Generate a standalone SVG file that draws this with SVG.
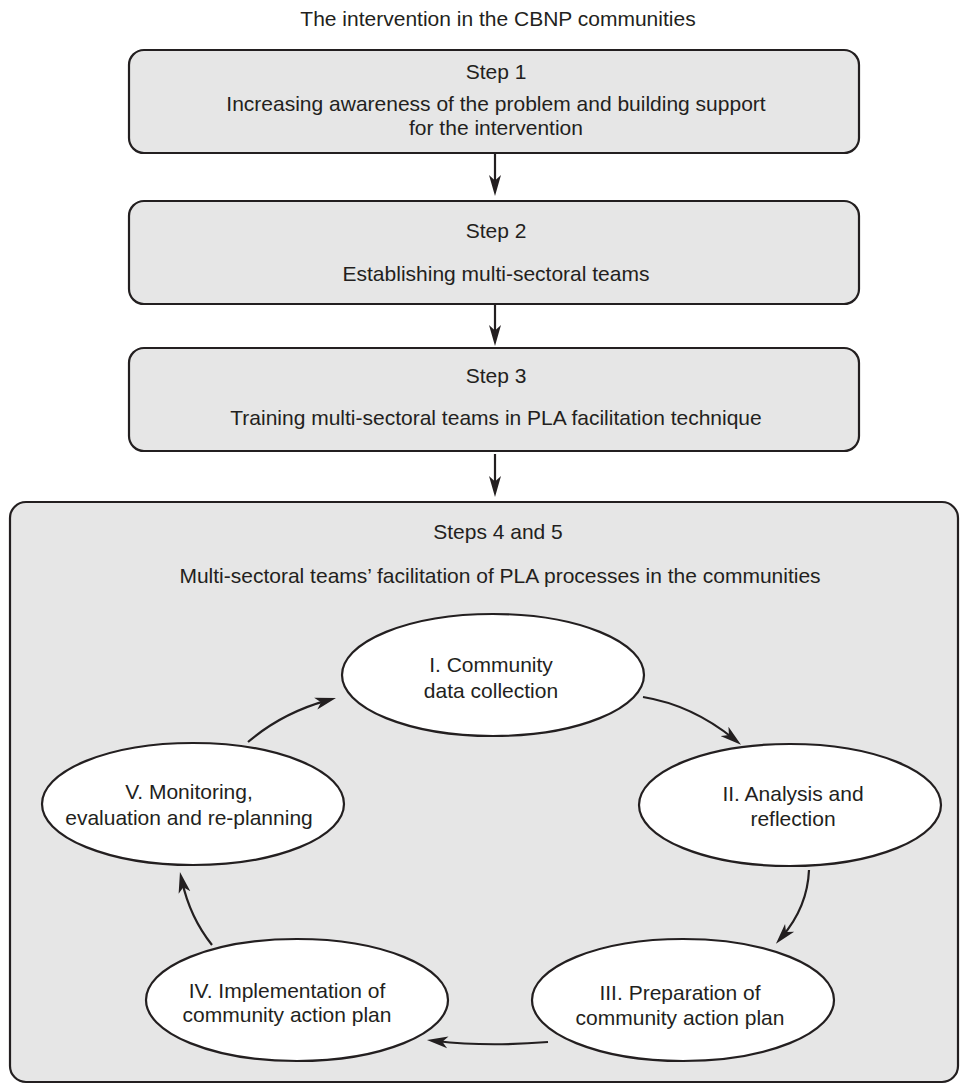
<svg xmlns="http://www.w3.org/2000/svg" width="960" height="1085" viewBox="0 0 960 1085">
<defs>
<style>
text{font-family:"Liberation Sans",Arial,sans-serif;font-size:21px;fill:#231f20;text-anchor:middle}
.box{fill:#e6e6e6;stroke:#231f20;stroke-width:2.2}
.ell{fill:#ffffff;stroke:#231f20;stroke-width:2.2}
.con{fill:none;stroke:#231f20;stroke-width:2.2}
</style>
<marker id="ah" viewBox="0 0 21 14" refX="12" refY="7" markerWidth="21" markerHeight="14" markerUnits="userSpaceOnUse" orient="auto">
<path d="M0,1 L21,7 L0,13 L5.5,7 Z" fill="#231f20"/>
</marker>
</defs>
<rect width="960" height="1085" fill="#ffffff"/>
<text id="title" x="498" y="26">The intervention in the CBNP communities</text>
<g id="step1">
<rect class="box" x="129" y="50" width="730" height="103" rx="15"/>
<text x="496" y="79">Step 1</text>
<text x="496" y="111">Increasing awareness of the problem and building support</text>
<text x="496" y="135">for the intervention</text>
</g>
<g id="step2">
<rect class="box" x="129" y="201" width="730" height="103" rx="15"/>
<text x="496" y="238">Step 2</text>
<text x="496" y="281">Establishing multi-sectoral teams</text>
</g>
<g id="step3">
<rect class="box" x="129" y="348" width="730" height="103" rx="15"/>
<text x="496" y="383">Step 3</text>
<text x="496" y="425">Training multi-sectoral teams in PLA facilitation technique</text>
</g>
<g id="steps45">
<rect class="box" x="10" y="502" width="948" height="580" rx="16"/>
<text x="498" y="539">Steps 4 and 5</text>
<text x="500" y="583">Multi-sectoral teams’ facilitation of PLA processes in the communities</text>
</g>
<g id="nodeI">
<ellipse class="ell" cx="493" cy="675" rx="151" ry="61"/>
<text x="491" y="672">I. Community</text>
<text x="491" y="698">data collection</text>
</g>
<g id="nodeII">
<ellipse class="ell" cx="790" cy="805" rx="151" ry="61"/>
<text x="793" y="801">II. Analysis and</text>
<text x="793" y="826">reflection</text>
</g>
<g id="nodeIII">
<ellipse class="ell" cx="683" cy="1000" rx="151" ry="61"/>
<text x="680" y="1000">III. Preparation of</text>
<text x="680" y="1025">community action plan</text>
</g>
<g id="nodeIV">
<ellipse class="ell" cx="297" cy="1000" rx="151" ry="61"/>
<text x="287" y="998">IV. Implementation of</text>
<text x="287" y="1022">community action plan</text>
</g>
<g id="nodeV">
<ellipse class="ell" cx="193" cy="804" rx="151" ry="61"/>
<text x="189" y="799">V. Monitoring,</text>
<text x="189" y="825">evaluation and re-planning</text>
</g>
<g id="connectors">
<path class="con" d="M495,153 L495,187" marker-end="url(#ah)"/>
<path class="con" d="M495,304 L495,337" marker-end="url(#ah)"/>
<path class="con" d="M495,454 L495,488" marker-end="url(#ah)"/>
<path class="con" d="M248,742 Q282,713 327.3,700.4" marker-end="url(#ah)"/>
<path class="con" d="M643,697 Q692,705 734,739" marker-end="url(#ah)"/>
<path class="con" d="M809,870 Q807.5,907 781.8,937" marker-end="url(#ah)"/>
<path class="con" d="M548,1042 Q486.5,1047 435.9,1041" marker-end="url(#ah)"/>
<path class="con" d="M212,945 Q190,917.5 181.9,880.8" marker-end="url(#ah)"/>
</g>
</svg>
